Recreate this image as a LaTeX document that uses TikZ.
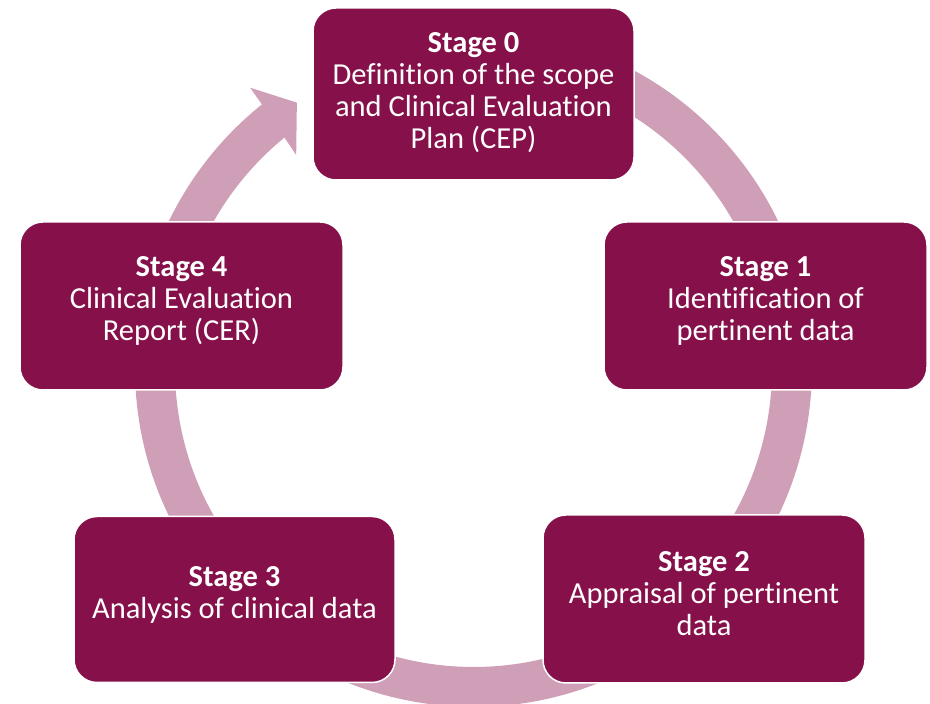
\documentclass[tikz,border=0pt]{standalone}
\usepackage{fontspec}
\setmainfont{Carlito}[Ligatures=NoCommon]
\definecolor{stagefill}{HTML}{86104A}
\definecolor{ringpink}{HTML}{CE9FB7}
\begin{document}
\begin{tikzpicture}[x=1pt,y=1pt,
  stagebox/.style={draw=white, line width=1.5pt, fill=stagefill, rounded corners=23pt,
    inner sep=0pt},
  stagetext/.style={text=white, align=center, inner sep=0pt,
    font=\fontsize{30.5}{32}\selectfont},
  ring/.style={fill=ringpink}]
\useasboundingbox (0,0) rectangle (930,704);

% circular arrow running clockwise behind the stages
\begin{scope}[shift={(473.5,335.5)}]
  \fill[ring] (80:338.4) arc[start angle=80, end angle=-231.3, radius=338.4]
    -- (128.5:358.8) -- (123.6:319.2) -- (129.7:277.6) -- (129.3:298.5)
    arc[start angle=-230.7, end angle=80, radius=298.5] -- cycle;
\end{scope}

% stage boxes
\node[stagebox, minimum width=321, minimum height=172] (s0) at (473.5,610) {};
\node[stagebox, minimum width=323, minimum height=168] (s1) at (765.5,398) {};
\node[stagebox, minimum width=322, minimum height=168] (s2) at (704,105) {};
\node[stagebox, minimum width=321, minimum height=166] (s3) at (234.5,104.5) {};
\node[stagebox, minimum width=323, minimum height=168] (s4) at (181.5,398) {};

% stage captions
\node[stagetext] (t0) at ([yshift=1]s0.center)
  {\textbf{Stage 0}\\Definition of the scope\\and Clinical Evaluation\\Plan (CEP)};
\node[stagetext] (t1) at ([yshift=5]s1.center)
  {\textbf{Stage 1}\\Identification of\\pertinent data};
\node[stagetext] (t2) at ([yshift=5]s2.center)
  {\textbf{Stage 2}\\Appraisal of pertinent\\data};
\node[stagetext] (t3) at ([yshift=5]s3.center)
  {\textbf{Stage 3}\\Analysis of clinical data};
\node[stagetext] (t4) at ([yshift=5]s4.center)
  {\textbf{Stage 4}\\Clinical Evaluation\\Report (CER)};
\end{tikzpicture}
\end{document}
